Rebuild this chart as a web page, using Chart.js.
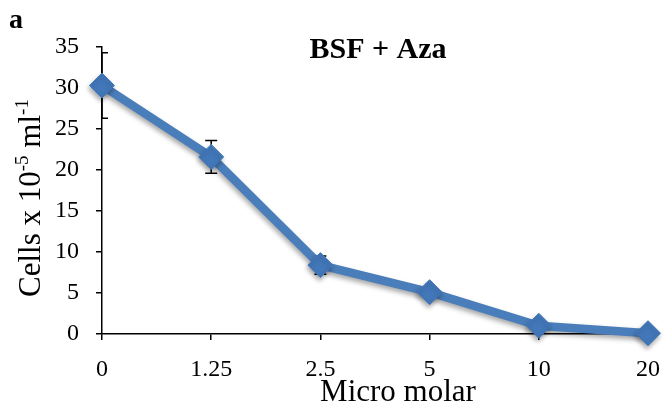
<!DOCTYPE html>
<html>
<head>
<meta charset="utf-8">
<script src="https://cdn.jsdelivr.net/npm/chart.js@4"></script>
<style>
  html, body { margin: 0; padding: 0; background: #ffffff; }
  #wrap { width: 665px; height: 413px; position: relative; }
</style>
</head>
<body>
<div id="wrap"><canvas id="chart" width="665" height="413"></canvas></div>
<script>
// Concentrations (µM) and cell counts
const doses = ['0', '1.25', '2.5', '5', '10', '20'];
const cellCounts = [30.3, 21.6, 8.4, 5.1, 1.0, 0.1];
const cellErrors = [4.0, 2.0, 1.1, 0, 0, 0];
const yMin = 0;
const yMax = 35;
const yStep = 5;

const SERIF = "'Liberation Serif', 'Times New Roman', serif";
const BLUE = '#4a7ebb';

// Error bars, clipped to the plot area and drawn under the series
const errorBars = {
  id: 'errorBars',
  beforeDatasetsDraw(chart) {
    const { ctx, chartArea, scales } = chart;
    ctx.save();
    ctx.beginPath();
    ctx.rect(chartArea.left, chartArea.top - 2, chartArea.right - chartArea.left, chartArea.bottom - chartArea.top + 4);
    ctx.clip();
    ctx.strokeStyle = '#000000';
    ctx.lineWidth = 1.5;
    cellCounts.forEach((v, i) => {
      const e = cellErrors[i];
      if (!e) return;
      const x = scales.x.getPixelForValue(i);
      const yHi = scales.y.getPixelForValue(v + e);
      const yLo = scales.y.getPixelForValue(v - e);
      ctx.beginPath();
      ctx.moveTo(x, yHi); ctx.lineTo(x, yLo);
      ctx.moveTo(x - 6, yHi); ctx.lineTo(x + 6, yHi);
      ctx.moveTo(x - 6, yLo); ctx.lineTo(x + 6, yLo);
      ctx.stroke();
    });
    ctx.restore();
  }
};

// Soft drop shadow under the line and markers
const seriesShadow = {
  id: 'seriesShadow',
  beforeDatasetDraw(chart) {
    const ctx = chart.ctx;
    ctx.save();
    ctx.shadowColor = 'rgba(0,0,0,0.35)';
    ctx.shadowBlur = 5;
    ctx.shadowOffsetX = -1;
    ctx.shadowOffsetY = 3;
  },
  afterDatasetDraw(chart) {
    chart.ctx.restore();
  }
};

// Panel letter, chart title and axis titles (with superscripts)
const titles = {
  id: 'titles',
  afterDraw(chart) {
    const ctx = chart.ctx;
    ctx.save();
    ctx.fillStyle = '#000000';
    ctx.textBaseline = 'alphabetic';

    ctx.font = `bold 28px ${SERIF}`;
    ctx.textAlign = 'left';
    ctx.fillText('a', 9, 28);

    ctx.font = `bold 30px ${SERIF}`;
    ctx.textAlign = 'center';
    ctx.fillText('BSF + Aza', 378, 58);

    ctx.font = `31px ${SERIF}`;
    ctx.fillText('Micro molar', 398, 401);

    // Rotated y-axis title: Cells x 10^-5 ml^-1
    const parts = [
      { t: 'Cells x 10', size: 31, rise: 0 },
      { t: '-5', size: 19, rise: 12 },
      { t: ' ml', size: 31, rise: 0 },
      { t: '-1', size: 19, rise: 12 }
    ];
    let total = 0;
    parts.forEach(p => { ctx.font = `${p.size}px ${SERIF}`; p.w = ctx.measureText(p.t).width; total += p.w; });
    ctx.translate(40, 198);
    ctx.rotate(-Math.PI / 2);
    ctx.textAlign = 'left';
    let x = -total / 2;
    parts.forEach(p => {
      ctx.font = `${p.size}px ${SERIF}`;
      ctx.fillText(p.t, x, -p.rise);
      x += p.w;
    });
    ctx.restore();
  }
};

new Chart(document.getElementById('chart'), {
  type: 'line',
  data: {
    labels: doses,
    datasets: [{
      data: cellCounts,
      borderColor: BLUE,
      borderWidth: 8.5,
      backgroundColor: BLUE,
      pointStyle: 'rectRot',
      pointRadius: 12.5,
      pointBackgroundColor: '#4277b9',
      pointBorderColor: '#4277b9',
      pointBorderWidth: 1,
      tension: 0,
      fill: false,
      clip: false
    }]
  },
  options: {
    responsive: false,
    animation: false,
    events: [],
    layout: { padding: { top: 47, right: 17, bottom: 0, left: 0 } },
    plugins: { legend: { display: false }, title: { display: false }, tooltip: { enabled: false } },
    scales: {
      x: {
        type: 'category',
        offset: false,
        border: { display: true, color: '#000000', width: 1.5 },
        grid: { display: true, drawOnChartArea: false, drawTicks: true, tickLength: 6, color: '#000000', lineWidth: 1.5 },
        ticks: { color: '#000000', font: { family: SERIF, size: 24 }, padding: 15, maxRotation: 0, autoSkip: false },
        afterFit(scale) {
          scale.height = 79;
          scale.paddingLeft = 0;
          scale.paddingRight = 0;
        }
      },
      y: {
        min: yMin,
        max: yMax,
        border: { display: true, color: '#000000', width: 1.5 },
        grid: { display: true, drawOnChartArea: false, drawTicks: true, tickLength: 6, color: '#000000', lineWidth: 1.5 },
        ticks: { stepSize: yStep, color: '#000000', font: { family: SERIF, size: 24 }, padding: 17 },
        afterFit(scale) { scale.width = 102; }
      }
    }
  },
  plugins: [errorBars, seriesShadow, titles]
});
</script>
</body>
</html>
